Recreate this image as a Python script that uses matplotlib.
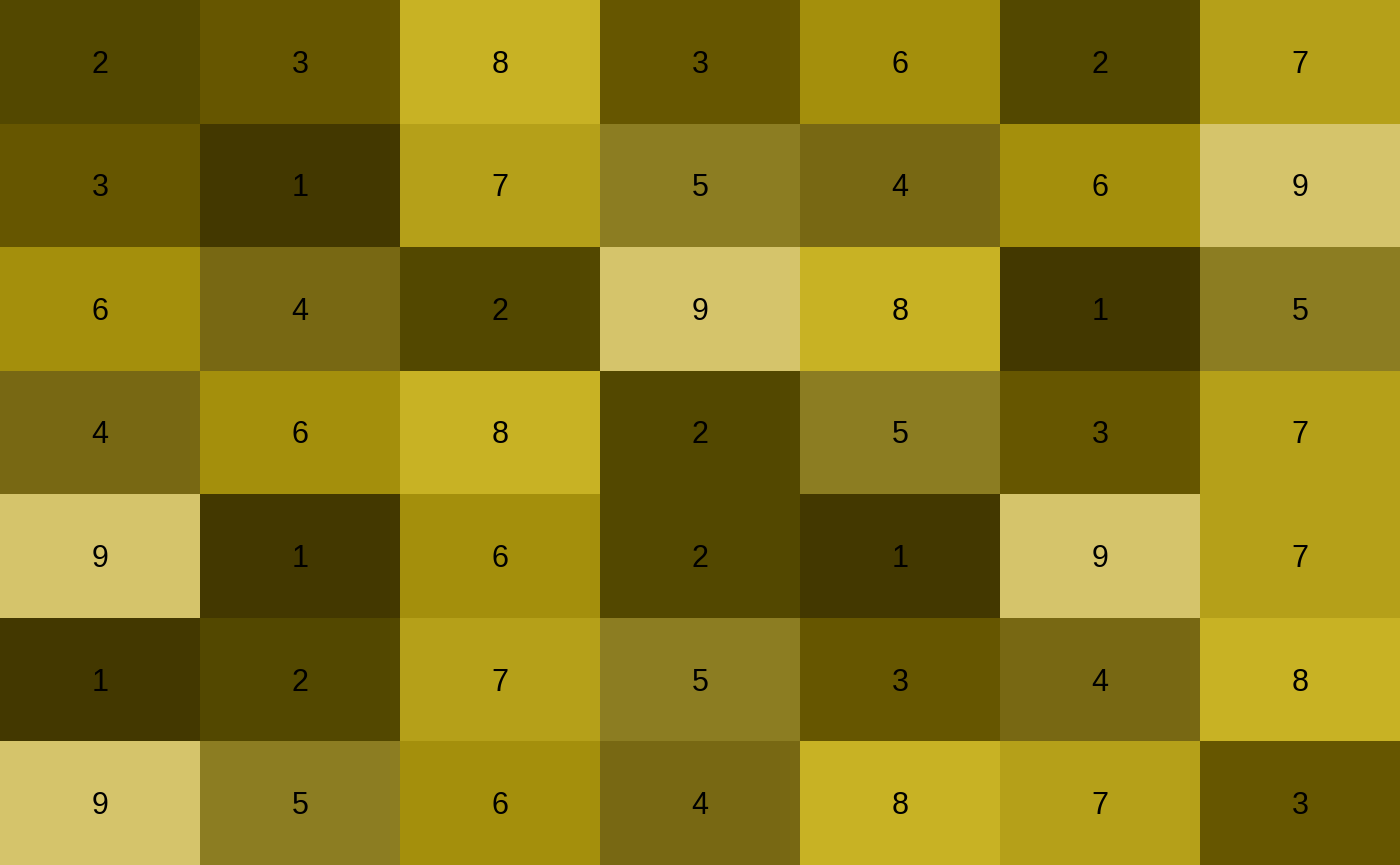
import matplotlib
matplotlib.use("Agg")
import matplotlib.pyplot as plt
import matplotlib.transforms as mtransforms
import numpy as np
from matplotlib.colors import ListedColormap, BoundaryNorm

# grid values, top row first
values = [
    [2, 3, 8, 3, 6, 2, 7],
    [3, 1, 7, 5, 4, 6, 9],
    [6, 4, 2, 9, 8, 1, 5],
    [4, 6, 8, 2, 5, 3, 7],
    [9, 1, 6, 2, 1, 9, 7],
    [1, 2, 7, 5, 3, 4, 8],
    [9, 5, 6, 4, 8, 7, 3],
]

# one fill colour per value 1..9
level_colors = ["#433800", "#534800", "#665600", "#786813", "#8c7d22",
                "#a48f0c", "#b5a019", "#c8b224", "#d5c46b"]

grid = np.array(values)
nrows, ncols = grid.shape
fs = 22

cmap = ListedColormap(level_colors)
norm = BoundaryNorm(np.arange(0.5, 10.5, 1), cmap.N)

fig = plt.figure(figsize=(14, 8.65), dpi=100)
ax = fig.add_axes([0, 0, 1, 1])
ax.pcolormesh(grid, cmap=cmap, norm=norm)
ax.set_xlim(0, ncols)
ax.set_ylim(nrows, 0)  # first row at the top
ax.axis("off")

# put the baseline half a digit height below the cell centre so digits sit centred
trans = mtransforms.offset_copy(ax.transData, fig=fig, x=0, y=-0.358 * fs, units="points")
for r in range(nrows):
    for c in range(ncols):
        ax.text(c + 0.5, r + 0.5, str(grid[r, c]), ha="center", va="baseline",
                fontsize=fs, family="Liberation Sans", color="black", transform=trans)

fig.savefig("out.png", dpi=100)
